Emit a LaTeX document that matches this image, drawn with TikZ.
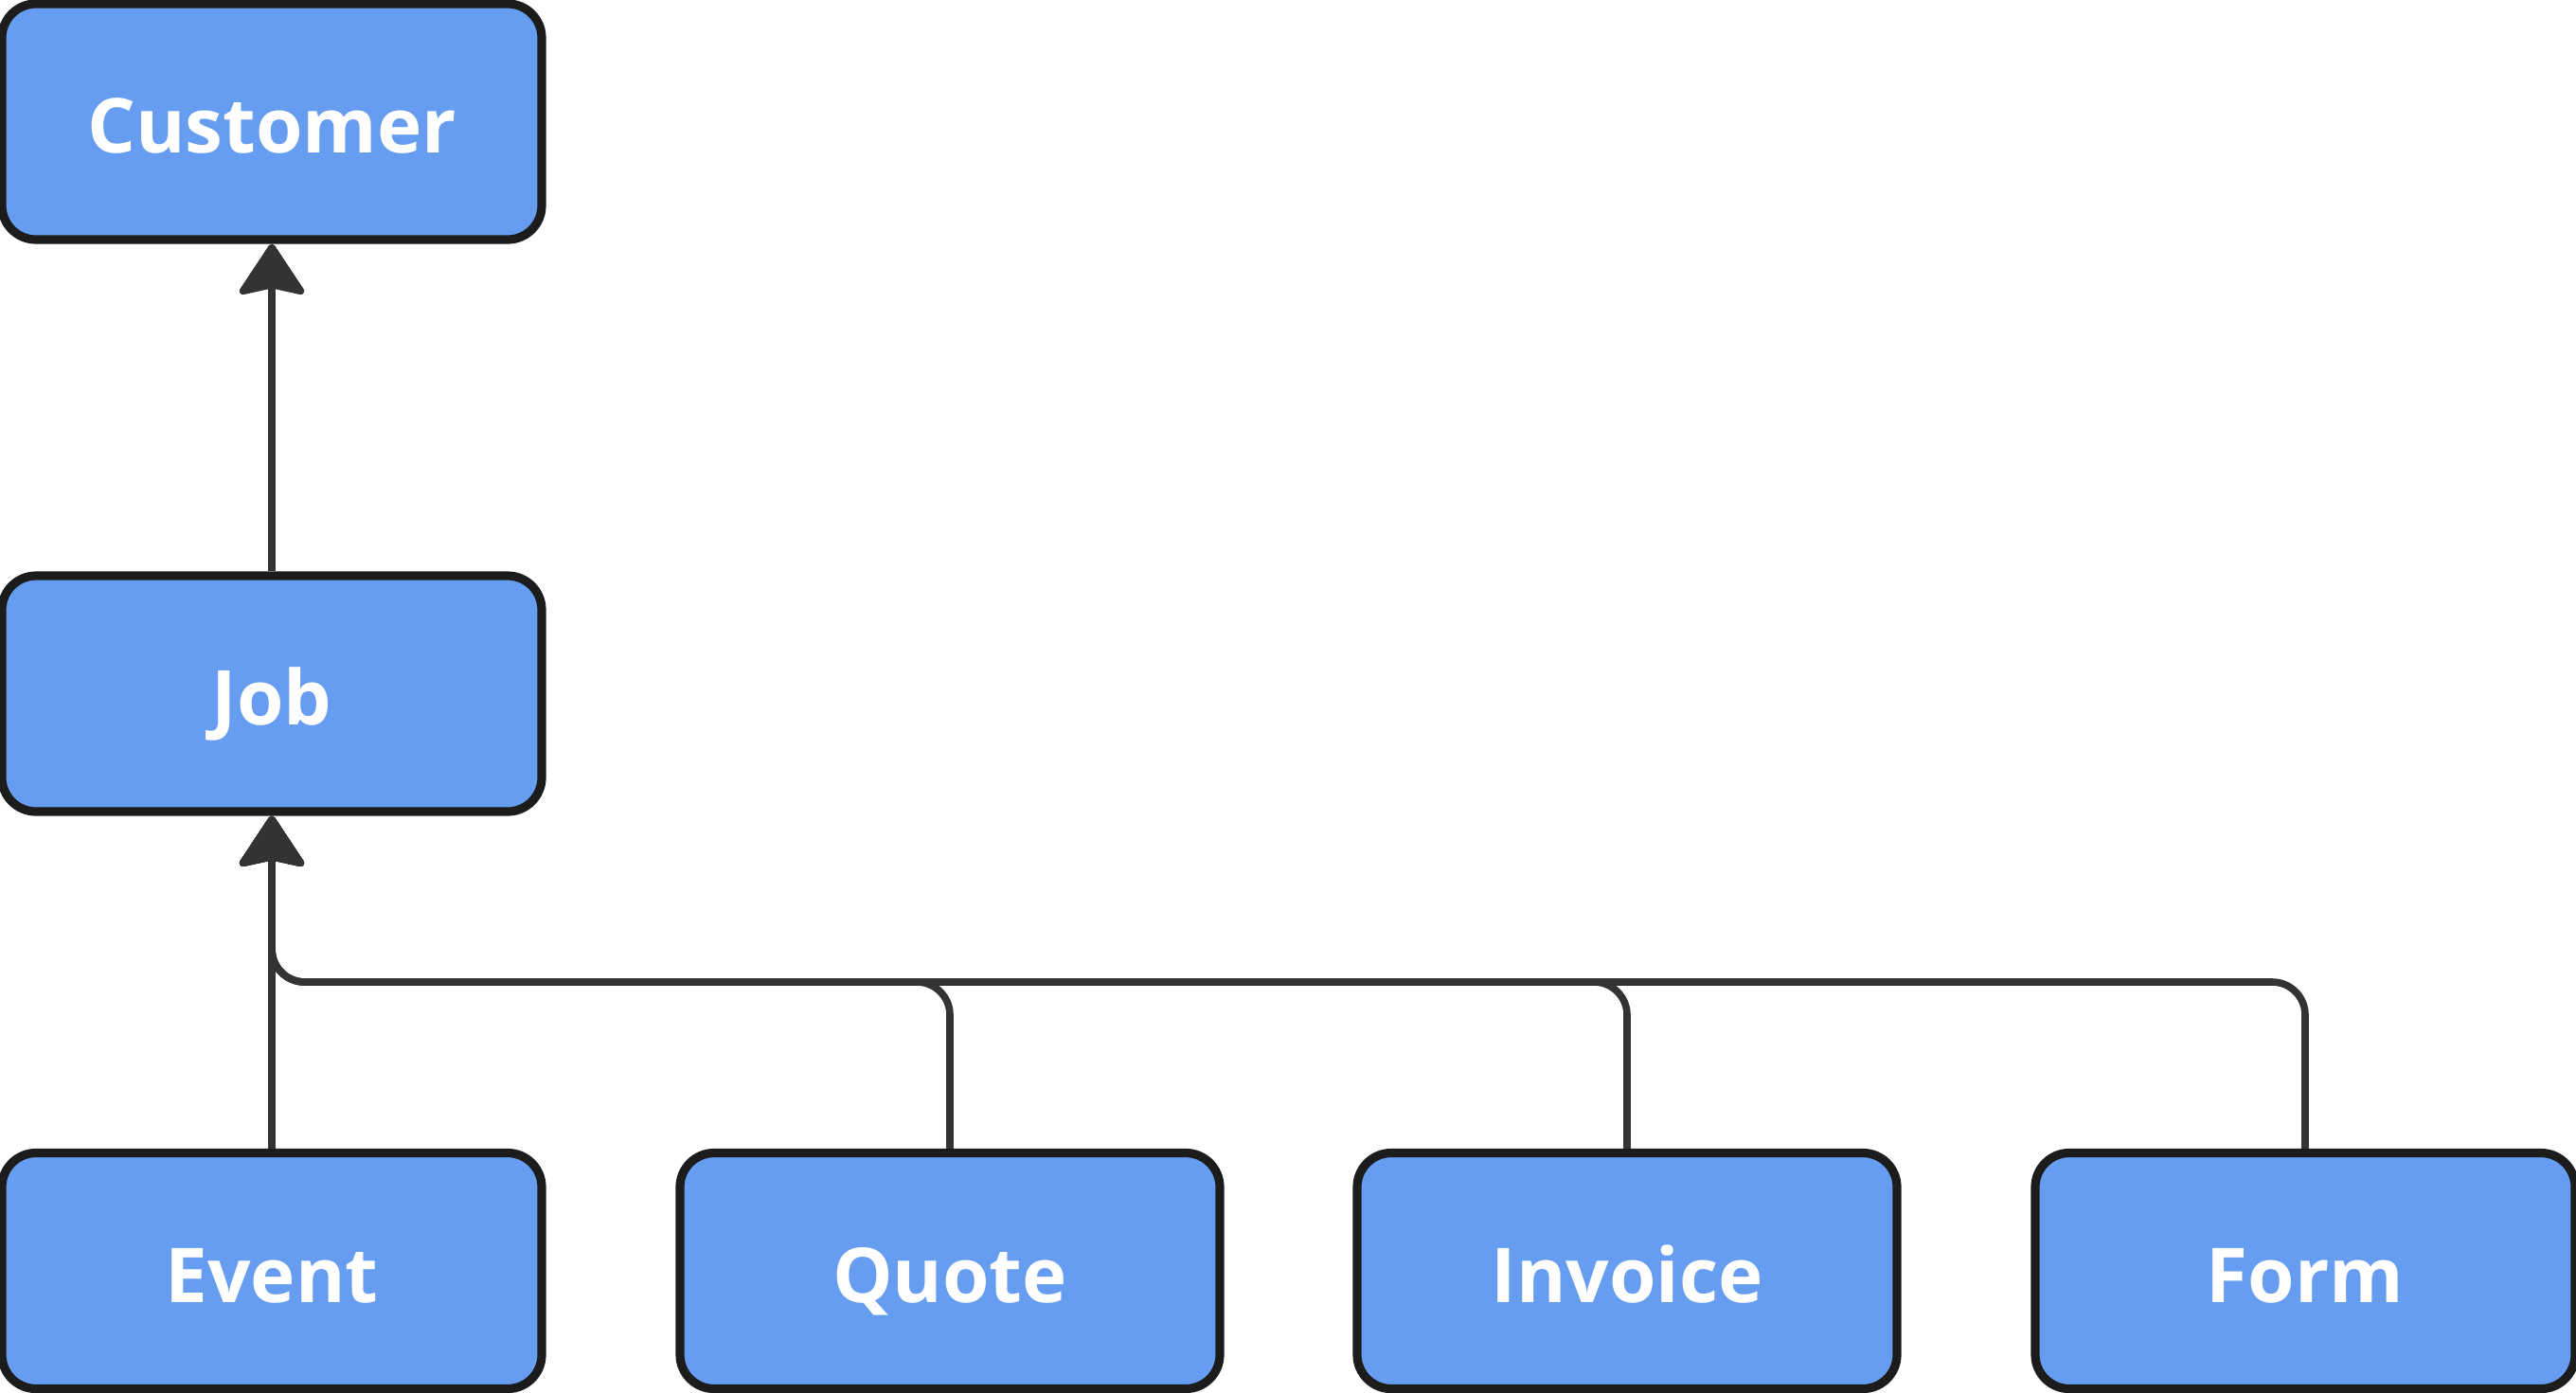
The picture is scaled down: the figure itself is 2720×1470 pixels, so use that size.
\documentclass[tikz,border=0pt]{standalone}
\usepackage{fontspec}
\setmainfont{Open Sans}
\usetikzlibrary{arrows.meta}
\definecolor{boxfill}{HTML}{669DF1}
\definecolor{boxdraw}{HTML}{1C1C1C}
\definecolor{linec}{HTML}{333333}
\tikzset{
  entity/.style={draw=boxdraw, fill=boxfill, line width=2.3pt, rounded corners=9pt,
    minimum width=142.5pt, minimum height=62.25pt, inner sep=0pt,
    text height=18pt, text depth=1.5pt,
    font=\fontsize{20}{24}\selectfont\bfseries, text=white},
  link/.style={draw=linec, line width=1.9pt, rounded corners=8.7pt,
    -{Stealth[length=14.5pt, width=19pt, inset=2pt, round]}},
}
\begin{document}
\begin{tikzpicture}[x=0.25pt, y=-0.25pt]
\useasboundingbox (0,0) rectangle (2720,1470);
\node[entity] (customer) at (287,128.5) {Customer};
\node[entity] (job) at (287,732.5) {Job};
\node[entity] (event) at (287,1342) {Event};
\node[entity] (quote) at (1003,1342) {Quote};
\node[entity] (invoice) at (1718,1342) {Invoice};
\node[entity] (form) at (2434,1342) {Form};
\coordinate (bus) at (0,1037);
\draw[link] (job.north) -- (customer.south);
\draw[link] (event.north) -- (job.south);
\draw[link] (quote.north) -- (quote.north |- bus) -- (job.south |- bus) -- (job.south);
\draw[link] (invoice.north) -- (invoice.north |- bus) -- (job.south |- bus) -- (job.south);
\draw[link] (form.north) -- (form.north |- bus) -- (job.south |- bus) -- (job.south);
\end{tikzpicture}
\end{document}
